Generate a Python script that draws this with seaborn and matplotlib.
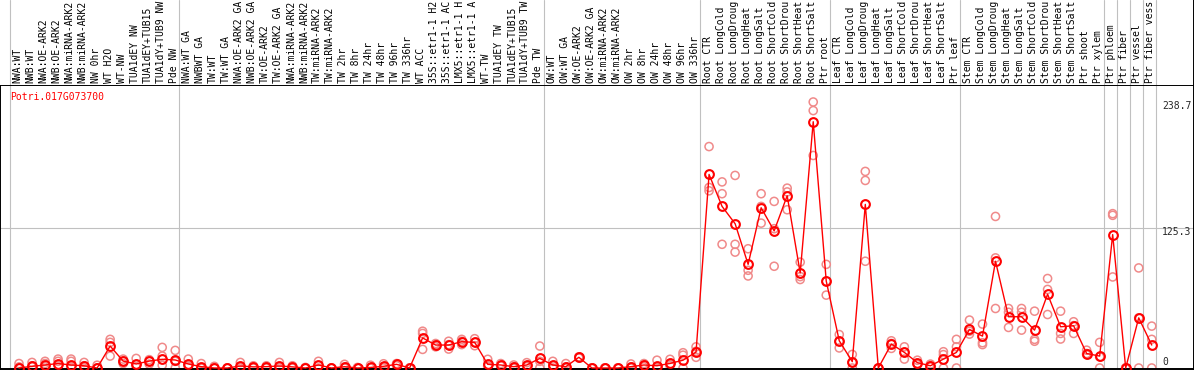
import matplotlib
matplotlib.use("Agg")
import matplotlib.pyplot as plt
import numpy as np
import pandas as pd
import seaborn as sns

# --- data ------------------------------------------------------------------
gene_id = "Potri.017G073700"

# sample names, shortened to 14 characters as in the source chart
labels = [
    "NWA:WT", "NWB:WT", "NWA:OE-ARK2", "NWB:OE-ARK2", "NWA:miRNA-ARK2",
    "NWB:miRNA-ARK2", "NW 0hr", "WT H2O", "WT-NW", "TUA1dEY NW",
    "TUA1dEY+TUB15", "TUA1dY+TUB9 NW", "Pde NW",
    "NWA:WT GA", "NWBWT GA", "TW:WT", "TW:WT GA", "NWA:OE-ARK2 GA",
    "NWB:OE-ARK2 GA", "TW:OE-ARK2", "TW:OE-ARK2 GA", "NWA:miRNA-ARK2",
    "NWB:miRNA-ARK2", "TW:miRNA-ARK2", "TW:miRNA-ARK2", "TW 2hr", "TW 8hr",
    "TW 24hr", "TW 48hr", "TW 96hr", "TW 336hr", "WT ACC",
    "35S::etr1-1 H2", "35S::etr1-1 AC", "LMX5::etr1-1 H",
    "LMX5::etr1-1 A", "WT-TW", "TUA1dEY TW", "TUA1dEY+TUB15",
    "TUA1dY+TUB9 TW", "Pde TW",
    "OW:WT", "OW:WT GA", "OW:OE-ARK2", "OW:OE-ARK2 GA", "OW:miRNA-ARK2",
    "OW:miRNA-ARK2", "OW 2hr", "OW 8hr", "OW 24hr", "OW 48hr", "OW 96hr",
    "OW 336hr",
    "Root CTR", "Root LongCold", "Root LongDroug", "Root LongHeat",
    "Root LongSalt", "Root ShortCold", "Root ShortDrou", "Root ShortHeat",
    "Root ShortSalt", "Ptr root",
    "Leaf CTR", "Leaf LongCold", "Leaf LongDroug", "Leaf LongHeat",
    "Leaf LongSalt", "Leaf ShortCold", "Leaf ShortDrou", "Leaf ShortHeat",
    "Leaf ShortSalt", "Ptr leaf",
    "Stem CTR", "Stem LongCold", "Stem LongDroug", "Stem LongHeat",
    "Stem LongSalt", "Stem ShortCold", "Stem ShortDrou", "Stem ShortHeat",
    "Stem ShortSalt", "Ptr shoot", "Ptr xylem",
    "Ptr phloem", "Ptr fiber", "Ptr vessel", "Ptr fiber vess",
]

means = [
    0, 1.5, 2.7, 4, 2.7, 2, 0, 19.7, 6.2, 3.6, 6.2, 7.8, 7.2,
    3.6, 1.2, 0, 0, 1.8, 1, 1.2, 1.8, 1, 0, 2.7, 0, 1.2, 0, 0.5, 1.5, 3.3,
    0, 27, 20.6, 20.6, 23.6, 23, 3.3, 2.7, 1.2, 2.7, 8.6,
    2.7, 1.2, 9.6, 0, 0, 0, 1.2, 2.7, 2, 4.1, 7, 14.3,
    173.7, 145, 129.5, 93, 143.8, 123, 154.6, 85.3, 221, 78,
    24.4, 5.7, 146.8, 0, 21.5, 14, 4.8, 2, 8, 14,
    34.6, 28.6, 95.8, 46, 46, 34, 66.2, 37, 37.9, 13, 10.7,
    119.7, 0, 45, 20.6,
]

rep_a = [
    4, 5, 6, 8, 8, 5, 2.5, 25.7, 8, 8.6, 7.5, 18.5, 15.8,
    8, 4, 1.5, 0, 5, 2, 2, 5, 2, 0.5, 6, 0, 3.3, 0.5, 2.5, 3.8, 4,
    0, 33, 22, 24, 25.7, 26.3, 7.8, 4, 2.7, 4.8, 19.7,
    6, 4, 10, 0, 0, 0, 3.6, 4, 7, 7.8, 13.7, 19,
    198.7, 167, 172.8, 107, 156.4, 149.5, 161.4, 95, 238.7, 93,
    30, 12.2, 176.4, 0, 24.4, 19, 7, 3.5, 14.6, 25.7,
    43, 39.4, 136, 53.4, 53.4, 51, 80.3, 51, 41.5, 16, 23,
    138.5, 0, 89.8, 37.6,
]

rep_b = [
    1, 2, 4, 6, 6, 2, 0, 23, 4, 3, 3.5, 10.7, 0,
    2, 0, 0, 0, 0.5, 1, 1, 1, 0, 0, 2, 0, 1, 0, 0, 1, 3,
    0, 31, 19, 17, 21, 20, 1.2, 2, 1, 1.2, 0,
    2, 1, 9, 0, 0, 0, 1, 2.7, 1, 3, 11.5, 9.6,
    162, 156.4, 111, 87.7, 130, 91.3, 158, 79.4, 231, 65.4,
    18, 0, 168.3, 0, 17.6, 8, 4, 1, 12, 19,
    30.4, 22.7, 98.8, 50, 50, 25.7, 70.5, 31, 31, 12, 0,
    137, 0, 0, 25.7,
]

rep_c = [
    0, 1, 1, 2, 1, 0, 0, 10.7, 6, 1, 6, 2.5, 6,
    1, 0, 0, 0, 0, 0, 0, 0, 0, 0, 0, 0, 0, 0, 0, 0, 2,
    0, 16.7, 21, 21, 24, 23, 2, 2, 0, 2, 6,
    0, 0, 9.6, 0, 0, 0, 0, 1, 0, 2, 0, 15,
    159, 111, 104, 82.6, 145, 125, 142, 82, 190.7, 78,
    24, 5, 95.8, 0, 22, 14, 3, 2, 0, 0,
    33, 21, 53.4, 36.4, 34, 24, 48, 26, 38, 13, 10,
    81.7, 0, 45, 0,
]

group_edges = [0, 13, 41, 53, 63, 73, 84, 85, 86, 87, 88]
y_marks = [0, 125.3, 238.7]

# --- layout (pixel based, to match the 1194x370 reference) ----------------
W, H = 1194, 370
HEADER = 85          # pixel row of the black line under the labels
PX_PER_COL = 13.02
X0 = 19              # pixel centre of the first column
Y0 = 368             # pixel row of value 0
PX_PER_UNIT = 1.1144
FS = 7.0

sns.set_style("white")
plt.rcParams["font.family"] = ["DejaVu Sans Mono", "DejaVu Sans"]
plt.rcParams["font.size"] = FS

fig = plt.figure(figsize=(W / 100, H / 100), dpi=100)
ax = fig.add_axes([0, 1 / H, 1, (H - 1 - HEADER) / H])
head = fig.add_axes([0, (H - HEADER) / H, 1, HEADER / H], sharex=ax)

x = np.arange(len(labels))
ax.set_xlim(-X0 / PX_PER_COL, (W - X0) / PX_PER_COL)
ax.set_ylim((Y0 - (H - 1)) / PX_PER_UNIT, (Y0 - HEADER) / PX_PER_UNIT)

grid_col = "#c0c0c0"
edge_off = (X0 - 10) / PX_PER_COL
for k in group_edges:
    ax.axvline(k - edge_off, color=grid_col, lw=0.8, zorder=0)
    head.axvline(k - edge_off, color=grid_col, lw=0.8, zorder=0)
ax.axhline(y_marks[1], color=grid_col, lw=0.8, zorder=0)

# replicates
reps = pd.DataFrame({
    "x": np.tile(x, 3),
    "value": rep_a + rep_b + rep_c,
})
sns.scatterplot(
    data=reps, x="x", y="value", ax=ax, marker="o", s=34,
    facecolor="none", edgecolor="#f08a8a", linewidth=1.1, zorder=2,
)

# mean line
sns.lineplot(
    x=x, y=means, ax=ax, color="red", lw=1.0, marker="o", markersize=6.3,
    markerfacecolor="none", markeredgecolor="red", markeredgewidth=1.5,
    zorder=3,
)

ax.set_xticks([])
ax.set_yticks([])
ax.set_xlabel("")
ax.set_ylabel("")
for side in ["left", "right", "bottom", "top"]:
    ax.spines[side].set_visible(True)
    ax.spines[side].set_color("black")
    ax.spines[side].set_linewidth(1.4)

# header with rotated sample names
head.set_ylim(0, HEADER)
head.set_yticks([])
head.tick_params(bottom=False, labelbottom=False)
for side in ["left", "top", "bottom"]:
    head.spines[side].set_visible(False)
head.spines["right"].set_color("black")
head.spines["right"].set_linewidth(1.4)
for i, lab in enumerate(labels):
    head.text(i - 0.1, 2, lab, rotation=90, ha="center", va="bottom",
              fontsize=FS, color="black")

# gene id and value marks on the right
fig.text(10 / W, 1 - 97 / H, gene_id, color="red", va="center", ha="left",
         fontsize=FS)
for val, ypix in zip(y_marks, [362, 232, 106]):
    fig.text(1162 / W, 1 - ypix / H, f"{val:g}", va="center", ha="left",
             fontsize=FS)

fig.savefig("out.png", dpi=100)
plt.close(fig)
